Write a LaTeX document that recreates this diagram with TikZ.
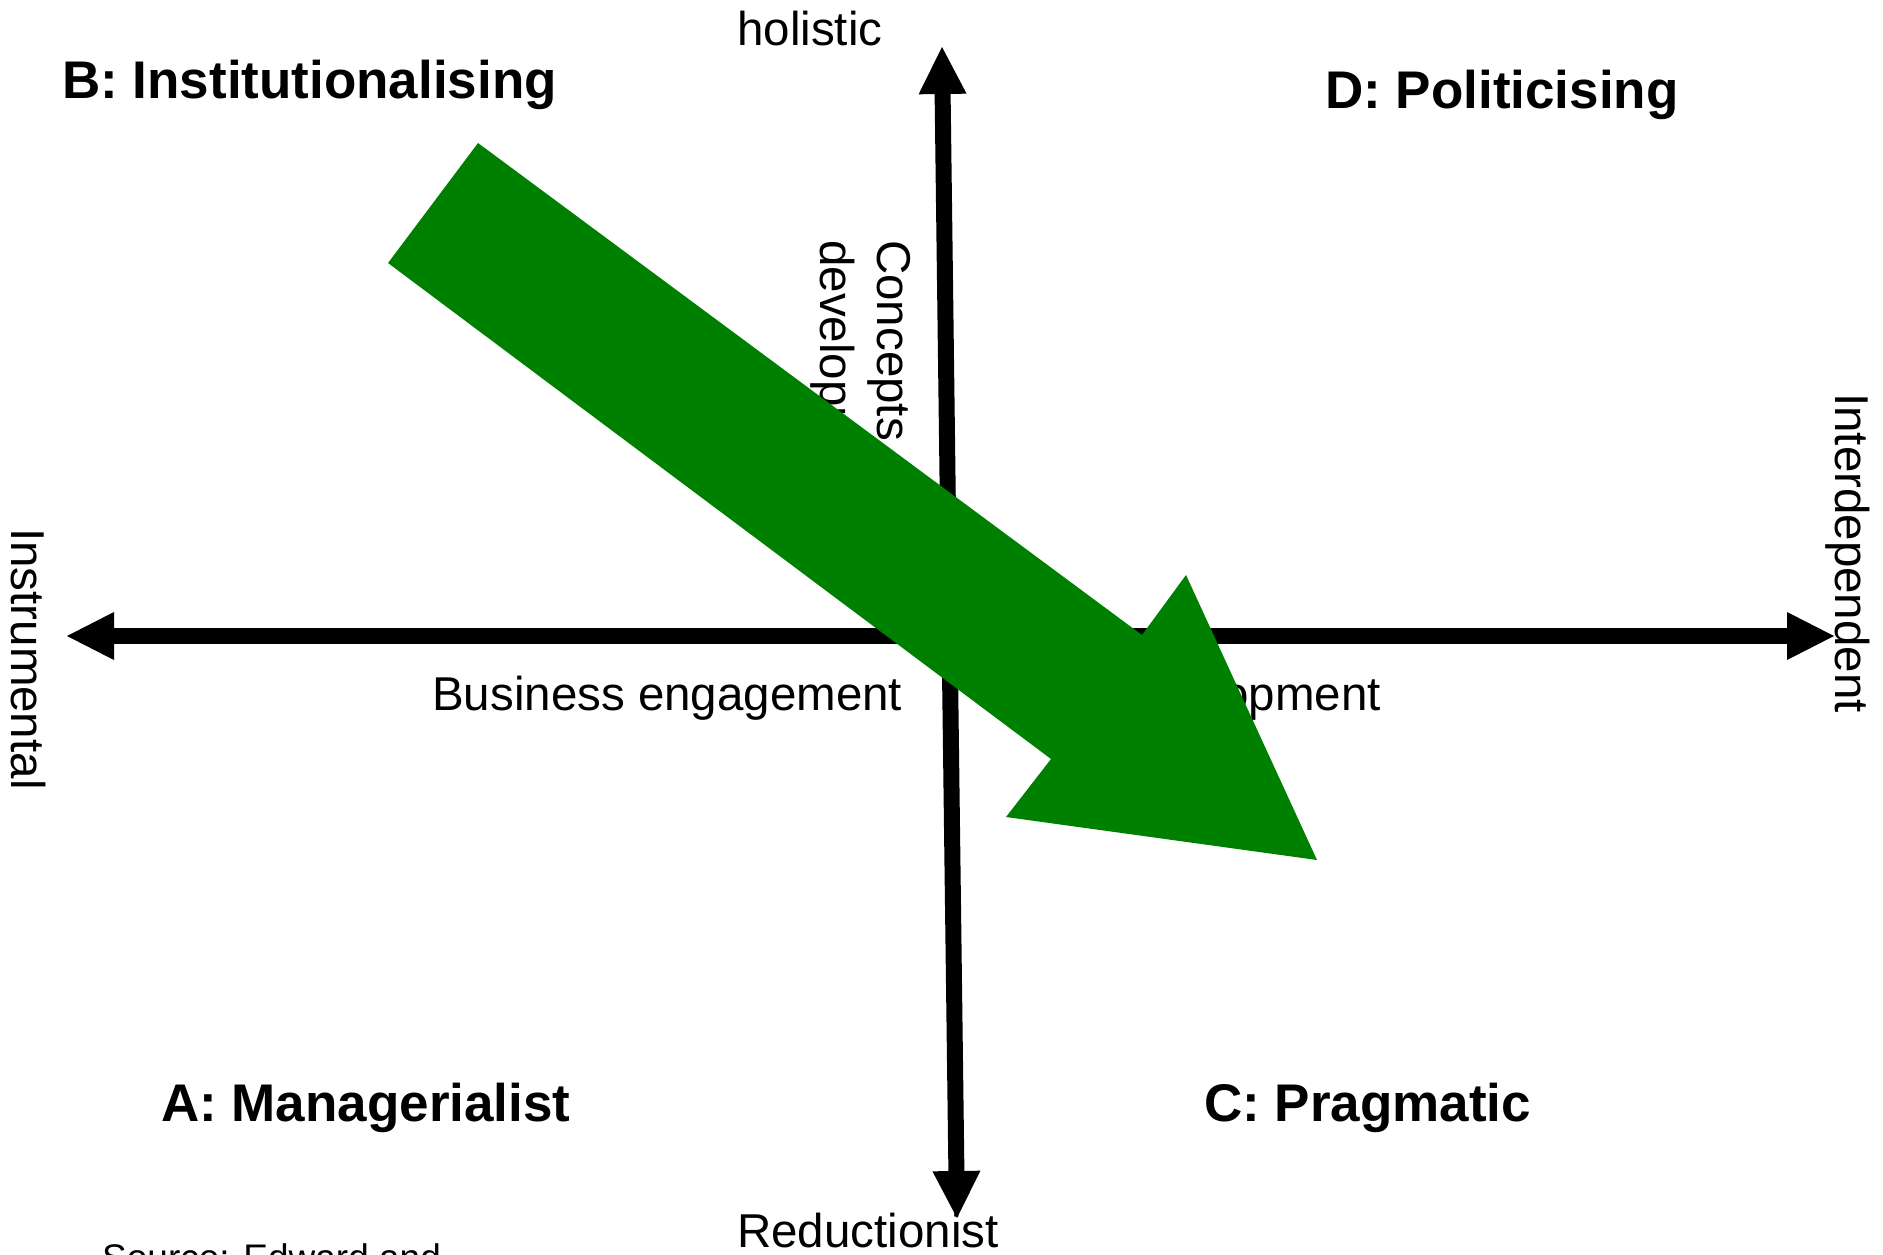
\documentclass[tikz,border=0pt]{standalone}
\usepackage{fontspec}
\setmainfont{Liberation Sans}
\usetikzlibrary{arrows.meta}
\definecolor{shiftgreen}{RGB}{0,128,0}
\begin{document}
\begin{tikzpicture}[x=1pt,y=-1pt,
  axistip/.tip={Triangle[length=47pt,width=48pt,line width=0pt]},
  axis/.style={line width=16pt, draw=black},
  lbl/.style={inner sep=0pt, anchor=base west, font=\fontsize{47.5}{57}\selectfont},
  vlbl/.style={lbl, rotate=-90},
  quad/.style={inner sep=0pt, anchor=base west, font=\fontsize{53}{64}\selectfont\bfseries},
  src/.style={inner sep=0pt, anchor=base west, font=\fontsize{37}{44}\selectfont},
]
\useasboundingbox (0,0) rectangle (1883,1255);
\fill[white] (0,0) rectangle (1883,1255);

% axis end points
\coordinate (W) at (67,636);
\coordinate (E) at (1834,636);
\coordinate (N) at (942,47);
\coordinate (S) at (957,1218);

% pole labels
\node[lbl] (holistic) at (737,46) {holistic};
\node[lbl] (reductionist) at (737,1247) {Reductionist};
\node[vlbl] (instrumental) at (12,528) {Instrumental};
\node[vlbl] (interdependent) at (1835,393) {Interdependent};

% axis titles
\node[vlbl] (concepts) at (877,240) {Concepts};
\node[vlbl] (conceptsdev) at (820,240) {development};
\node[lbl] (engagement) at (432,710) {Business engagement};
\node[lbl, anchor=base east] (development) at (1381,710) {development};

% quadrant names
\node[quad] (B) at (62,99) {B: Institutionalising};
\node[quad] (D) at (1325,109) {D: Politicising};
\node[quad] (A) at (161,1121) {A: Managerialist};
\node[quad] (C) at (1204,1121) {C: Pragmatic};

\node[src] (source) at (102,1270) {Source: Edward and};

% axes
\draw[axis, {axistip}-{axistip}] (W) -- (E);
\draw[axis, {axistip}-{axistip}] (S) -- (N);

% block arrow showing the shift from B towards C
\coordinate (g1) at (478,143);
\coordinate (g2) at (1142,635);
\coordinate (g3) at (1186,575);
\coordinate (g4) at (1317,860);
\coordinate (g5) at (1006,817);
\coordinate (g6) at (1051,759);
\coordinate (g7) at (388,263);
\fill[shiftgreen] (g1) -- (g2) -- (g3) -- (g4) -- (g5) -- (g6) -- (g7) -- cycle;
\end{tikzpicture}
\end{document}
